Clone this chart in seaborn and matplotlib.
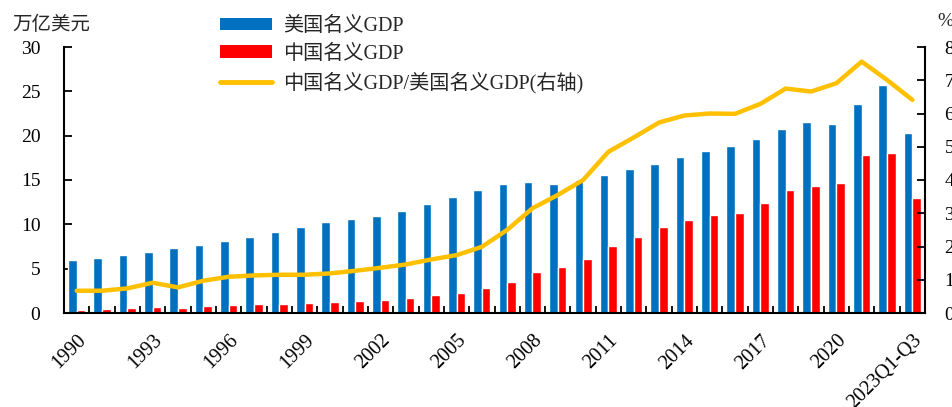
import numpy as np
import pandas as pd
import matplotlib
matplotlib.use("Agg")
import matplotlib.pyplot as plt
import matplotlib.transforms as mtransforms
from matplotlib.lines import Line2D
from matplotlib.patches import Patch
import seaborn as sns

categories = [str(y) for y in range(1990, 2023)] + ["2023Q1-Q3"]
us_gdp = [6.0, 6.2, 6.55, 6.9, 7.3, 7.65, 8.1, 8.6, 9.1, 9.65,
          10.3, 10.6, 10.95, 11.5, 12.3, 13.1, 13.85, 14.5, 14.8, 14.5,
          15.05, 15.6, 16.25, 16.85, 17.6, 18.3, 18.8, 19.6, 20.7, 21.5,
          21.3, 23.55, 25.75, 20.25]
cn_gdp = [0.38, 0.45, 0.51, 0.66, 0.6, 0.79, 0.9, 1.0, 1.05, 1.15,
          1.25, 1.38, 1.5, 1.7, 2.0, 2.3, 2.8, 3.55, 4.6, 5.15,
          6.1, 7.55, 8.55, 9.65, 10.5, 11.0, 11.3, 12.35, 13.9, 14.3,
          14.7, 17.8, 18.0, 12.95]
ratio = [6.7, 6.7, 7.4, 9.1, 7.7, 9.7, 10.9, 11.3, 11.5, 11.5,
         11.9, 12.7, 13.6, 14.6, 16.1, 17.4, 19.9, 25.0, 31.5, 35.5,
         40.0, 48.5, 52.8, 57.3, 59.4, 60.0, 59.9, 62.9, 67.5, 66.6,
         69.1, 75.6, 70.1, 64.1]
series_names = ["美国名义GDP", "中国名义GDP", "中国名义GDP/美国名义GDP(右轴)"]
left_ticks = [0, 5, 10, 15, 20, 25, 30]
right_ticks = [0, 10, 20, 30, 40, 50, 60, 70, 80]

BLUE = "#0070C0"
RED = "#FF0000"
GOLD = "#FFC000"

sns.set_theme(style="white")
FONT = ["Liberation Serif", "Noto Sans CJK SC", "DejaVu Sans"]
plt.rcParams["font.family"] = FONT
plt.rcParams["axes.unicode_minus"] = False

df = pd.DataFrame({
    "cat": categories * 2,
    "val": us_gdp + cn_gdp,
    "series": [series_names[0]] * len(categories) + [series_names[1]] * len(categories),
})

W, H = 952, 407
fig = plt.figure(figsize=(W / 100, H / 100), dpi=100)
ax = fig.add_axes([64 / W, 1 - 313 / H, (925 - 64) / W, (313 - 47) / H])

sns.barplot(data=df, x="cat", y="val", hue="series", order=categories,
            hue_order=series_names[:2], palette=[BLUE, RED], width=0.68,
            saturation=1, ax=ax, legend=False, errorbar=None)

ax2 = ax.twinx()
sns.lineplot(x=np.arange(len(categories)), y=ratio, ax=ax2, color=GOLD,
             linewidth=3.2, legend=False)

n = len(categories)
ax.set_xlim(-0.5, n - 0.5)
ax.set_ylim(0, 30)
ax2.set_ylim(0, 80)
ax.set_xlabel("")
ax.set_ylabel("")
ax2.set_ylabel("")

ax.set_yticks(left_ticks)
ax.set_yticklabels([str(t) for t in left_ticks], fontsize=14)
ax2.set_yticks(right_ticks)
ax2.set_yticklabels([str(t) for t in right_ticks], fontsize=14)

lab_idx = list(range(0, n, 3))
ax.set_xticks(lab_idx)
ax.set_xticklabels([categories[i] for i in lab_idx], fontsize=14.5,
                   rotation=45, ha="right", va="top", rotation_mode="anchor")
offset = mtransforms.ScaledTranslation(3 / 100, 0, fig.dpi_scale_trans)
for lbl in ax.get_xticklabels():
    lbl.set_transform(lbl.get_transform() + offset)
ax.set_xticks(np.arange(0.5, n - 0.5, 1.0), minor=True)
ax.tick_params(axis="x", which="major", length=0, pad=13, colors="black")
ax.tick_params(axis="x", which="minor", length=5, width=1.3, direction="in",
               color="black", bottom=True)
ax.tick_params(axis="y", which="major", length=6, width=1.3, direction="in",
               pad=17, colors="black", left=True)
ax2.tick_params(axis="y", which="major", length=6, width=1.3, direction="in",
                pad=14, colors="black", right=True)

for a in (ax, ax2):
    a.grid(False)
    a.spines["top"].set_visible(False)
    for s in ("left", "right", "bottom"):
        a.spines[s].set_color("black")
        a.spines[s].set_linewidth(1.5)
ax.spines["right"].set_visible(False)
ax2.spines["left"].set_visible(False)
ax2.spines["bottom"].set_visible(False)

fig.text(12 / W, 1 - 24 / H, "万亿美元", fontsize=14, family=["Noto Sans CJK SC"],
         ha="left", va="center")
fig.text(937 / W, 1 - 22 / H, "%", fontsize=14, family=FONT, ha="left", va="center")

handles = [Patch(facecolor=BLUE, edgecolor="none"),
           Patch(facecolor=RED, edgecolor="none"),
           Line2D([0], [0], color=GOLD, linewidth=3.5)]
fig.legend(handles, series_names, loc="upper left",
           bbox_to_anchor=(212 / W, 1 - 9 / H), frameon=False,
           prop={"family": FONT, "size": 14.5}, handlelength=2.6, handleheight=0.6,
           handletextpad=0.55, labelspacing=0.42, borderaxespad=0)

fig.savefig("out.png", dpi=100)
